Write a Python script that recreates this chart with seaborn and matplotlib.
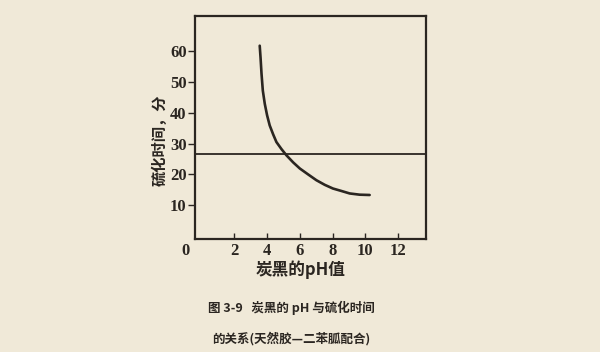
import matplotlib
matplotlib.use("Agg")
import pandas as pd
import matplotlib.pyplot as plt
import seaborn as sns

# pH of carbon black vs. cure time (minutes)
PH = [3.55, 3.60, 3.66, 3.74, 3.86, 4.00, 4.16, 4.37, 4.57, 4.88, 5.18,
      5.59, 6.00, 6.50, 7.01, 7.52, 8.02, 8.54, 9.04, 9.65, 10.26]
CURE_TIME = [61.8, 58.0, 52.7, 47.2, 42.9, 39.2, 35.9, 33.0, 30.5, 28.2, 26.2,
             23.9, 21.9, 20.0, 18.1, 16.6, 15.4, 14.6, 13.8, 13.4, 13.3]
REF_LEVEL = 26.5

X_TICKS = [2, 4, 6, 8, 10, 12]
Y_TICKS = [10, 20, 30, 40, 50, 60]

X_LABEL = "炭黑的pH值"
Y_LABEL = "硫化时间，分"
CAPTION_1 = "图 3-9   炭黑的 pH 与硫化时间"
CAPTION_2 = "的关系(天然胶—二苯胍配合)"

PAPER = "#f0e9d8"
INK = "#2b2621"

sns.set_style("ticks")
plt.rcParams['font.family'] = ['Noto Sans CJK SC', 'DejaVu Sans']

df = pd.DataFrame({"ph": PH, "time": CURE_TIME})

fig = plt.figure(figsize=(6, 3.52), dpi=100, facecolor=PAPER)
ax = fig.add_axes([0.325, 0.321, 0.385, 0.634])
ax.set_facecolor(PAPER)

sns.lineplot(data=df, x="ph", y="time", ax=ax, color=INK, linewidth=1.9, sort=False)
ax.axhline(REF_LEVEL, color=INK, linewidth=1.3)

ax.set_xlim(-0.4, 13.7)
ax.set_ylim(-1, 71.5)
ax.set_xticks(X_TICKS)
ax.set_yticks(Y_TICKS)

num_font = {'family': 'Liberation Serif', 'size': 12, 'weight': 'bold', 'color': INK}
ax.set_xticklabels([str(t) for t in X_TICKS], fontdict=num_font)
ax.set_yticklabels([str(t) for t in Y_TICKS], fontdict=num_font)
ax.tick_params(axis='x', direction='in', length=4, width=1, colors=INK, pad=3)
ax.tick_params(axis='y', direction='out', length=5, width=1, colors=INK, pad=1)
ax.text(-0.025, -0.018, "0", transform=ax.transAxes, ha='right', va='top', **num_font)

for s in ax.spines.values():
    s.set_color(INK)
    s.set_linewidth(1.6)

ax.set_xlabel(X_LABEL, fontsize=12, fontweight='bold', color=INK)
ax.set_ylabel(Y_LABEL, fontsize=11, fontweight='bold', color=INK)
ax.xaxis.set_label_coords(0.459, -0.095)
ax.yaxis.set_label_coords(-0.12, 0.444)

fig.text(0.485, 0.125, CAPTION_1, ha='center', va='center', fontsize=9,
         fontweight='bold', color=INK)
fig.text(0.485, 0.037, CAPTION_2, ha='center', va='center', fontsize=9,
         fontweight='bold', color=INK)

plt.savefig("out.png", dpi=100, facecolor=PAPER)
